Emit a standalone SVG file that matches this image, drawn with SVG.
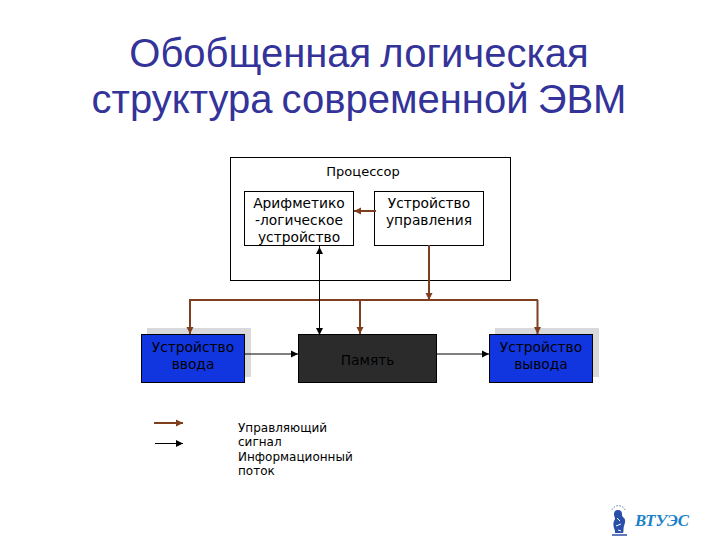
<svg xmlns="http://www.w3.org/2000/svg" width="720" height="540" viewBox="0 0 720 540">
<style>
.t{font-family:"Liberation Sans",Arial,sans-serif;font-size:40px;fill:#333399;text-anchor:middle}
.l{font-family:"DejaVu Sans",Verdana,sans-serif;font-size:13.8px;fill:#000;text-anchor:middle}
.s{font-family:"DejaVu Sans",Verdana,sans-serif;font-size:12px;fill:#000}
.box{fill:#fff;stroke:#000;stroke-width:1}
.blue{fill:#1136e0;stroke:#000;stroke-width:1}
.sh{fill:#d9d9dc}
.b{fill:none;stroke:#7f3f1e;stroke-width:2}
.k{fill:none;stroke:#000;stroke-width:1}
</style>
<defs>
<marker id="ab" markerUnits="userSpaceOnUse" markerWidth="8" markerHeight="8" refX="7" refY="4" orient="auto"><path d="M0 0.500L7 4L0 7.500Z" fill="#7f3f1e"/></marker>
<marker id="ak" markerUnits="userSpaceOnUse" markerWidth="8" markerHeight="8" refX="7" refY="4" orient="auto"><path d="M0 0.500L7 4L0 7.500Z" fill="#000"/></marker>
</defs>
<text class="t" x="359" y="67" word-spacing="-2">Обобщенная логическая</text>
<text class="t" x="359" y="113" word-spacing="-2">структура современной ЭВМ</text>
<g id="processor"><rect class="box" x="230.500" y="157.500" width="280" height="123"/><text class="l" x="363" y="176" style="font-size:13px">Процессор</text></g>
<g id="alu"><rect class="box" x="244.500" y="191.500" width="109" height="54"/><text class="l" x="299" y="208">Арифметико</text><text class="l" x="299" y="225">-логическое</text><text class="l" x="299" y="242">устройство</text></g>
<g id="cu"><rect class="box" x="374.500" y="191.500" width="109" height="54"/><text class="l" x="429" y="208">Устройство</text><text class="l" x="429" y="225">управления</text></g>
<g id="input"><rect class="sh" x="147" y="328" width="104" height="49"/><rect class="blue" x="141.500" y="334.500" width="103" height="48"/><text class="l" x="193" y="352">Устройство</text><text class="l" x="193" y="369">ввода</text></g>
<g id="memory"><rect x="298.500" y="334.500" width="138" height="48" fill="#2b2b2b" stroke="#000"/><text class="l" x="367.500" y="365">Память</text></g>
<g id="output"><rect class="sh" x="495" y="328" width="104" height="49"/><rect class="blue" x="489.500" y="334.500" width="103" height="48"/><text class="l" x="541" y="352">Устройство</text><text class="l" x="541" y="369">вывода</text></g>
<g id="connectors">
<path class="b" d="M189 300H538"/>
<path class="b" d="M376 211H354" marker-end="url(#ab)"/>
<path class="b" d="M429 245V300" marker-end="url(#ab)"/>
<path class="b" d="M190 300V334" marker-end="url(#ab)"/>
<path class="b" d="M360 300V334" marker-end="url(#ab)"/>
<path class="b" d="M537.500 300V334" marker-end="url(#ab)"/>
<path class="k" d="M319.500 334V247" marker-end="url(#ak)"/>
<path class="k" d="M319.500 246V335" marker-end="url(#ak)"/>
<path class="k" d="M245 354H298" marker-end="url(#ak)"/>
<path class="k" d="M436 354H489" marker-end="url(#ak)"/>
<path class="b" d="M154 423H183" marker-end="url(#ab)"/>
<path class="k" d="M155 443.500H183" marker-end="url(#ak)"/>
</g>
<g id="legend"><text class="s" x="238" y="432">Управляющий</text><text class="s" x="238" y="446">сигнал</text><text class="s" x="238" y="461">Информационный</text><text class="s" x="238" y="475">поток</text></g>
<g id="logo">
<path d="M612 510a7 7 0 0 1 13 0" fill="none" stroke="#5a78b8" stroke-width="1" stroke-dasharray="1.500 1.500"/>
<path d="M618 510c-3 0-4 2-4 4 0 2 1 4 1 5-2 3-2 6-1 9 1 2 1 4 1 5h8c1-2 0-4 1-7 1-3 2-6 0-8-2-1-2-3-2-4 0-2-1-4-4-4z" fill="#2a4fa8"/>
<path d="M617 518l3 3M616 526l5-2M618 530l3 1" stroke="#fff" stroke-width="1"/>
<path d="M612 535h15" stroke="#2a4fa8" stroke-width="1.500"/>
<text x="635" y="526" font-family="'Liberation Serif',serif" font-style="italic" font-weight="700" font-size="17" fill="#1a7fc8" textLength="54" lengthAdjust="spacingAndGlyphs">ВТУЭС</text>
</g>
</svg>
